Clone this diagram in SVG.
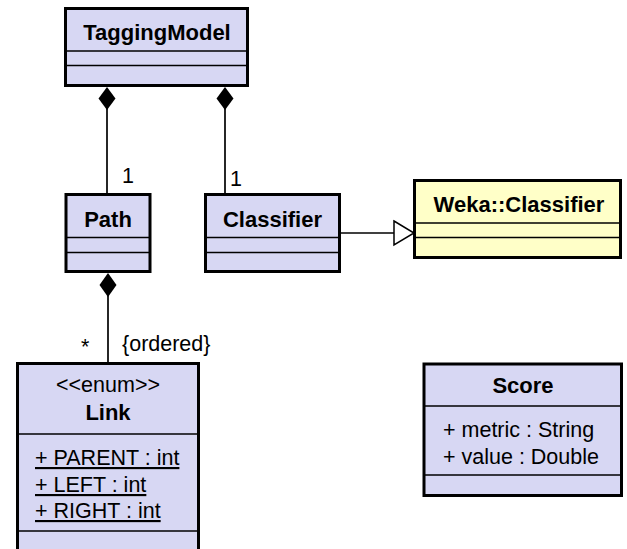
<svg xmlns="http://www.w3.org/2000/svg" width="627" height="549" viewBox="0 0 627 549">
  <style>
    .cls { fill: #d7d7f3; stroke: #000; stroke-width: 3; }
    .ext { fill: #ffffc8; stroke: #000; stroke-width: 3; }
    .sep { stroke: #000; stroke-width: 1.5; }
    .edge { stroke: #000; stroke-width: 1.7; fill: none; }
    text { font-family: "Liberation Sans", Arial, sans-serif; font-size: 21.5px; fill: #000; }
    .name { font-weight: bold; font-size: 22px; text-anchor: middle; }
    .mid { text-anchor: middle; }
    .static { text-decoration: underline; }
  </style>

  <g id="connectors">
    <!-- composition: TaggingModel owns Path -->
    <path class="edge" d="M107,194 L107,108"/>
    <path d="M107,87 L115.5,98.5 L107,110 L98.5,98.5 Z" fill="#000"/>
    <!-- composition: TaggingModel owns Classifier -->
    <path class="edge" d="M225,194 L225,108"/>
    <path d="M225,87 L233.5,98.5 L225,110 L216.5,98.5 Z" fill="#000"/>
    <!-- composition: Path owns Link -->
    <path class="edge" d="M108,295 L108,363"/>
    <path d="M108,273 L116.5,285 L108,297 L99.5,285 Z" fill="#000"/>
    <!-- generalization: Classifier to Weka::Classifier -->
    <path class="edge" d="M341,233 L394,233"/>
    <path d="M394,221 L414,233 L394,245 Z" fill="#fff" stroke="#000" stroke-width="1.5"/>
    <text x="122" y="183">1</text>
    <text x="230" y="186">1</text>
    <text x="81" y="354">*</text>
    <text x="122" y="351">{ordered}</text>
  </g>

  <g id="TaggingModel">
    <rect class="cls" x="65.5" y="8.5" width="182" height="77"/>
    <line class="sep" x1="65.5" y1="51" x2="247.5" y2="51"/>
    <line class="sep" x1="65.5" y1="65.5" x2="247.5" y2="65.5"/>
    <text class="name" x="157" y="40">TaggingModel</text>
  </g>

  <g id="Path">
    <rect class="cls" x="66" y="194.5" width="84" height="77"/>
    <line class="sep" x1="66" y1="237.5" x2="150" y2="237.5"/>
    <line class="sep" x1="66" y1="252.5" x2="150" y2="252.5"/>
    <text class="name" x="108" y="227">Path</text>
  </g>

  <g id="Classifier">
    <rect class="cls" x="205.5" y="194.5" width="134" height="77"/>
    <line class="sep" x1="205.5" y1="237.5" x2="339.5" y2="237.5"/>
    <line class="sep" x1="205.5" y1="252.5" x2="339.5" y2="252.5"/>
    <text class="name" x="272.5" y="227">Classifier</text>
  </g>

  <g id="WekaClassifier">
    <rect class="ext" x="414.5" y="180.5" width="206" height="77"/>
    <line class="sep" x1="414.5" y1="223" x2="620.5" y2="223"/>
    <line class="sep" x1="414.5" y1="237.5" x2="620.5" y2="237.5"/>
    <text class="name" x="519" y="212">Weka::Classifier</text>
  </g>

  <g id="Link">
    <rect class="cls" x="17.5" y="363.5" width="181" height="200"/>
    <line class="sep" x1="17.5" y1="434" x2="198.5" y2="434"/>
    <line class="sep" x1="17.5" y1="531" x2="198.5" y2="531"/>
    <text class="mid" x="108" y="392">&lt;&lt;enum&gt;&gt;</text>
    <text class="name" x="108" y="420">Link</text>
    <text class="static" x="35" y="465">+ PARENT : int</text>
    <text class="static" x="35" y="492">+ LEFT : int</text>
    <text class="static" x="35" y="518">+ RIGHT : int</text>
  </g>

  <g id="Score">
    <rect class="cls" x="424" y="364" width="197.5" height="131.5"/>
    <line class="sep" x1="424" y1="406" x2="621.5" y2="406"/>
    <line class="sep" x1="424" y1="475" x2="621.5" y2="475"/>
    <text class="name" x="523" y="393">Score</text>
    <text x="443" y="437">+ metric : String</text>
    <text x="443" y="464">+ value : Double</text>
  </g>
</svg>
